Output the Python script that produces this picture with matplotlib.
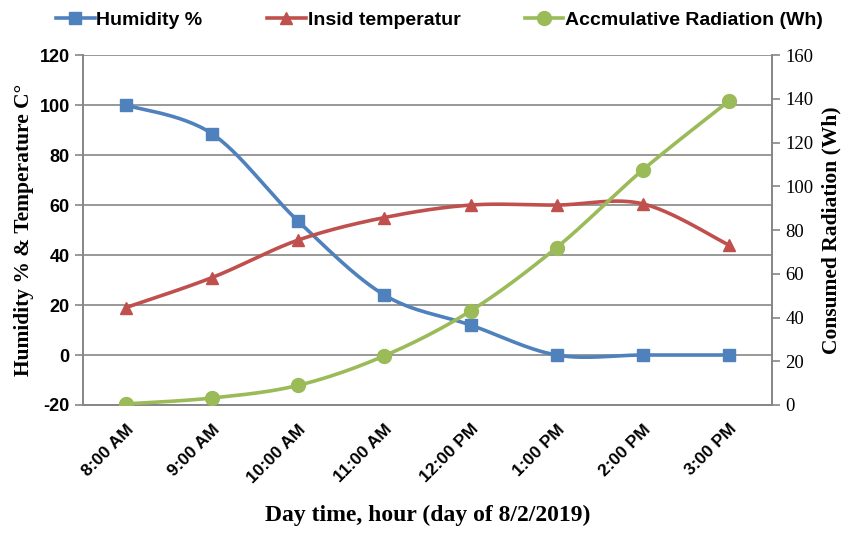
import numpy as np
import matplotlib
matplotlib.use('Agg')
import matplotlib.pyplot as plt
from matplotlib.lines import Line2D

plt.rcParams['axes.unicode_minus'] = False

hours = ['8:00 AM', '9:00 AM', '10:00 AM', '11:00 AM', '12:00 PM', '1:00 PM', '2:00 PM', '3:00 PM']
humidity = [100, 88.5, 53.5, 24, 12, 0, 0, 0]
temperature = [19, 31, 46, 55, 60, 60, 60.5, 44]
radiation = [0.5, 3.2, 9, 22.5, 43, 72, 107.5, 139]

blue = '#4F81BD'
red = '#C0504D'
green = '#9BBB59'
gray = '#868686'


def smooth(x, y, n=30):
    # excel-like smoothed line (bezier with catmull-rom control points)
    x = np.asarray(x, float)
    y = np.asarray(y, float)
    p = np.column_stack([x, y])
    pts = [p[0]]
    t = np.linspace(0, 1, n)[1:]
    for i in range(len(p) - 1):
        p0 = p[i - 1] if i > 0 else p[i]
        p3 = p[i + 2] if i + 2 < len(p) else p[i + 1]
        c1 = p[i] + (p[i + 1] - p0) / 6
        c2 = p[i + 1] - (p3 - p[i]) / 6
        for tt in t:
            b = ((1 - tt) ** 3) * p[i] + 3 * ((1 - tt) ** 2) * tt * c1 \
                + 3 * (1 - tt) * tt ** 2 * c2 + tt ** 3 * p[i + 1]
            pts.append(b)
    pts = np.array(pts)
    return pts[:, 0], pts[:, 1]


fig = plt.figure(figsize=(8.5, 5.35), dpi=100)
ax = fig.add_axes([0.0976, 0.243, 0.8106, 0.654])
ax2 = ax.twinx()

x = np.arange(len(hours))

sx, sy = smooth(x, humidity)
ax.plot(sx, sy, color=blue, lw=2.6, zorder=3)
ax.plot(x, humidity, ls='none', marker='s', ms=8, color=blue, zorder=4)
sx, sy = smooth(x, temperature)
ax.plot(sx, sy, color=red, lw=2.6, zorder=3)
ax.plot(x, temperature, ls='none', marker='^', ms=9, color=red, zorder=4)
sx, sy = smooth(x, radiation)
ax2.plot(sx, sy, color=green, lw=2.6, zorder=3)
ax2.plot(x, radiation, ls='none', marker='o', ms=10, color=green, zorder=4)

ax.set_xlim(-0.5, len(hours) - 0.5)
ax.set_ylim(-20, 120)
ax.set_yticks(np.arange(-20, 121, 20))
ax2.set_ylim(0, 160)
ax2.set_yticks(np.arange(0, 161, 20))

ax.grid(axis='y', color=gray, lw=1.2)
ax.set_axisbelow(True)
for a in (ax, ax2):
    a.spines['top'].set_visible(False)
    for s in ('left', 'right', 'bottom'):
        a.spines[s].set_color(gray)
        a.spines[s].set_linewidth(1.2)

ax.set_xticks(x)
ax.set_xticklabels(hours, rotation=45, ha='right', rotation_mode='anchor',
                   fontsize=12.5, fontweight='bold', family='Liberation Sans')
ax.tick_params(axis='x', length=0, pad=12)
ax.tick_params(axis='y', length=6, color=gray, width=1.2, labelsize=13)
for lab in ax.get_yticklabels():
    lab.set_fontweight('bold')
    lab.set_family('Liberation Sans')
ax2.tick_params(axis='y', length=6, color=gray, width=1.2, labelsize=13.5)
for lab in ax2.get_yticklabels():
    lab.set_family('Liberation Serif')

ax.set_xlabel('Day time, hour (day of 8/2/2019)', fontsize=17, fontweight='bold',
              family='Liberation Serif', labelpad=14)
ax.set_ylabel('Humidity % & Temperature C\u00b0', fontsize=15.5, fontweight='bold',
              family='Liberation Serif', labelpad=4)
ax2.set_ylabel('Consumed Radiation (Wh)', fontsize=15.5, fontweight='bold',
               family='Liberation Serif', labelpad=6)

handles = [
    Line2D([], [], color=blue, lw=2.6, marker='s', ms=8),
    Line2D([], [], color=red, lw=2.6, marker='^', ms=9),
    Line2D([], [], color=green, lw=2.6, marker='o', ms=10),
]
labels = ['Humidity %', 'Insid temperatur', 'Accmulative Radiation (Wh)']
fig.legend(handles, labels, loc='center', bbox_to_anchor=(0.517, 0.962), ncol=3,
           frameon=False, prop={'family': 'Liberation Sans', 'weight': 'bold', 'size': 14},
           handlelength=2.0, handletextpad=0.1, columnspacing=3.3)

fig.savefig('out.png', dpi=100)
